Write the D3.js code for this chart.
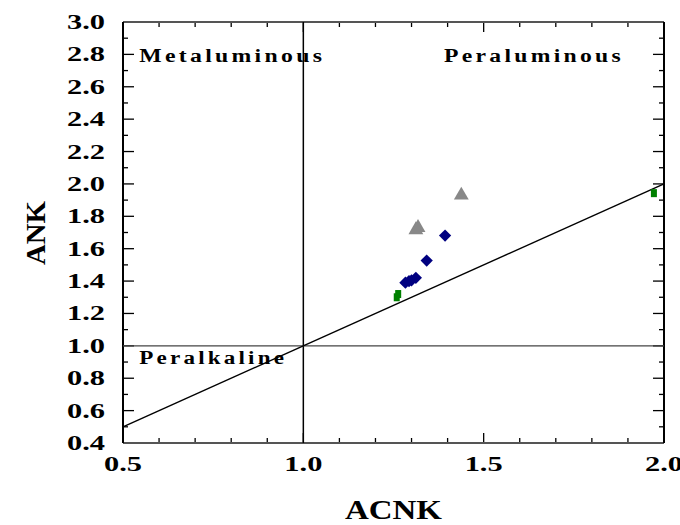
<!DOCTYPE html>
<html lang="en">
<head>
    <meta charset="UTF-8">
    <title>ACNK vs ANK</title>
    <script src="https://d3js.org/d3.v7.min.js"></script>
    <style>
        body { margin: 0; background: #fff; }
        svg text { font-family: "Liberation Serif", "Times New Roman", serif; font-weight: bold; }
    </style>
</head>
<body>
    <svg width="680" height="525"></svg>
    <script>
        // data
        const xTicks = [0.5, 1.0, 1.5, 2.0];
        const yTicks = [0.4, 0.6, 0.8, 1.0, 1.2, 1.4, 1.6, 1.8, 2.0, 2.2, 2.4, 2.6, 2.8, 3.0];
        const triangles = [[1.312, 1.716], [1.318, 1.73], [1.438, 1.93]];
        const diamonds = [[1.393, 1.681], [1.342, 1.527], [1.283, 1.39], [1.293, 1.40], [1.30, 1.405], [1.312, 1.42]];
        const squares = [[1.259, 1.30], [1.263, 1.32], [1.972, 1.943]];
        const fieldLabels = [
            { text: "Metaluminous", x: 0.545, y: 2.8, w: 186 },
            { text: "Peraluminous", x: 1.39, y: 2.8, w: 180 },
            { text: "Peralkaline", x: 0.545, y: 0.94, w: 148 }
        ];

        const svg = d3.select("svg");
        const x = d3.scaleLinear().domain([0.5, 2.0]).range([123, 664]);
        const y = d3.scaleLinear().domain([0.4, 3.0]).range([443, 22]);

        // minor/major ticks, all pointing inward
        const xMinor = d3.range(0.5, 2.001, 0.1);
        const yMinor = d3.range(0.4, 3.001, 0.1);
        const g = svg.append("g");

        // bottom + top
        xMinor.forEach(function (v) {
            const major = xTicks.some(t => Math.abs(t - v) < 1e-6);
            const len = major ? 10 : 5;
            g.append("line").attr("x1", x(v)).attr("x2", x(v)).attr("y1", y(0.4)).attr("y2", y(0.4) - len)
                .attr("stroke", "#000").attr("stroke-width", 1.3);
            g.append("line").attr("x1", x(v)).attr("x2", x(v)).attr("y1", y(3.0)).attr("y2", y(3.0) + len)
                .attr("stroke", "#000").attr("stroke-width", 1.3);
        });
        // left + right
        yMinor.forEach(function (v, i) {
            const major = i % 2 === 0;
            const len = major ? 11 : 5;
            g.append("line").attr("y1", y(v)).attr("y2", y(v)).attr("x1", x(0.5)).attr("x2", x(0.5) + len)
                .attr("stroke", "#000").attr("stroke-width", 1.3);
            g.append("line").attr("y1", y(v)).attr("y2", y(v)).attr("x1", x(2.0)).attr("x2", x(2.0) - len)
                .attr("stroke", "#000").attr("stroke-width", 1.3);
        });

        // frame
        g.append("line").attr("x1", x(0.5)).attr("x2", x(2.0)).attr("y1", y(3.0)).attr("y2", y(3.0))
            .attr("stroke", "#555").attr("stroke-width", 2);
        g.append("line").attr("x1", x(0.5)).attr("x2", x(2.0)).attr("y1", y(0.4)).attr("y2", y(0.4))
            .attr("stroke", "#555").attr("stroke-width", 2);
        g.append("line").attr("x1", x(0.5)).attr("x2", x(0.5)).attr("y1", y(0.4)).attr("y2", y(3.0))
            .attr("stroke", "#000").attr("stroke-width", 2);
        g.append("line").attr("x1", x(2.0)).attr("x2", x(2.0)).attr("y1", y(0.4)).attr("y2", y(3.0))
            .attr("stroke", "#000").attr("stroke-width", 2);

        // field boundaries
        g.append("line").attr("x1", x(1.0)).attr("x2", x(1.0)).attr("y1", y(0.4)).attr("y2", y(3.0))
            .attr("stroke", "#000").attr("stroke-width", 1.5);
        g.append("line").attr("x1", x(0.5)).attr("x2", x(2.0)).attr("y1", y(1.0)).attr("y2", y(1.0))
            .attr("stroke", "#444").attr("stroke-width", 1.3);
        g.append("line").attr("x1", x(0.5)).attr("x2", x(2.0)).attr("y1", y(0.5)).attr("y2", y(2.0))
            .attr("stroke", "#000").attr("stroke-width", 1.4);

        // tick labels (the original glyphs are wide, so stretch them)
        svg.selectAll(".xl").data(xTicks).enter().append("text")
            .attr("x", d => x(d) - 19).attr("y", 471)
            .attr("font-size", 21).attr("textLength", 38).attr("lengthAdjust", "spacingAndGlyphs")
            .text(d => d.toFixed(1));
        svg.selectAll(".yl").data(yTicks).enter().append("text")
            .attr("x", 67).attr("y", d => y(d) + 7)
            .attr("font-size", 21).attr("textLength", 38).attr("lengthAdjust", "spacingAndGlyphs")
            .text(d => d.toFixed(1));

        // axis titles
        svg.append("text").attr("x", 345).attr("y", 519)
            .attr("font-size", 27).attr("textLength", 97).attr("lengthAdjust", "spacingAndGlyphs")
            .text("ACNK");
        svg.append("text").attr("transform", "translate(45,265) rotate(-90)")
            .attr("font-size", 27).attr("textLength", 64).attr("lengthAdjust", "spacingAndGlyphs")
            .text("ANK");

        // field names
        svg.selectAll(".fl").data(fieldLabels).enter().append("text")
            .attr("x", d => x(d.x)).attr("y", d => y(d.y) + 8)
            .attr("font-size", 18).attr("letter-spacing", 2.5)
            .attr("textLength", d => d.w).attr("lengthAdjust", "spacingAndGlyphs")
            .text(d => d.text);

        // points
        const sym = svg.append("g");
        sym.selectAll(".tri").data(triangles).enter().append("path")
            .attr("d", d3.symbol(d3.symbolTriangle, 95))
            .attr("transform", d => `translate(${x(d[0])},${y(d[1])})`)
            .attr("fill", "#888");
        sym.selectAll(".dia").data(diamonds).enter().append("path")
            .attr("d", d3.symbol(d3.symbolSquare, 75))
            .attr("transform", d => `translate(${x(d[0])},${y(d[1])}) rotate(45)`)
            .attr("fill", "#000080");
        sym.selectAll(".sq").data(squares).enter().append("rect")
            .attr("x", d => x(d[0]) - 3).attr("y", d => y(d[1]) - 4)
            .attr("width", 6).attr("height", 8)
            .attr("fill", "#008000");
    </script>
</body>
</html>
